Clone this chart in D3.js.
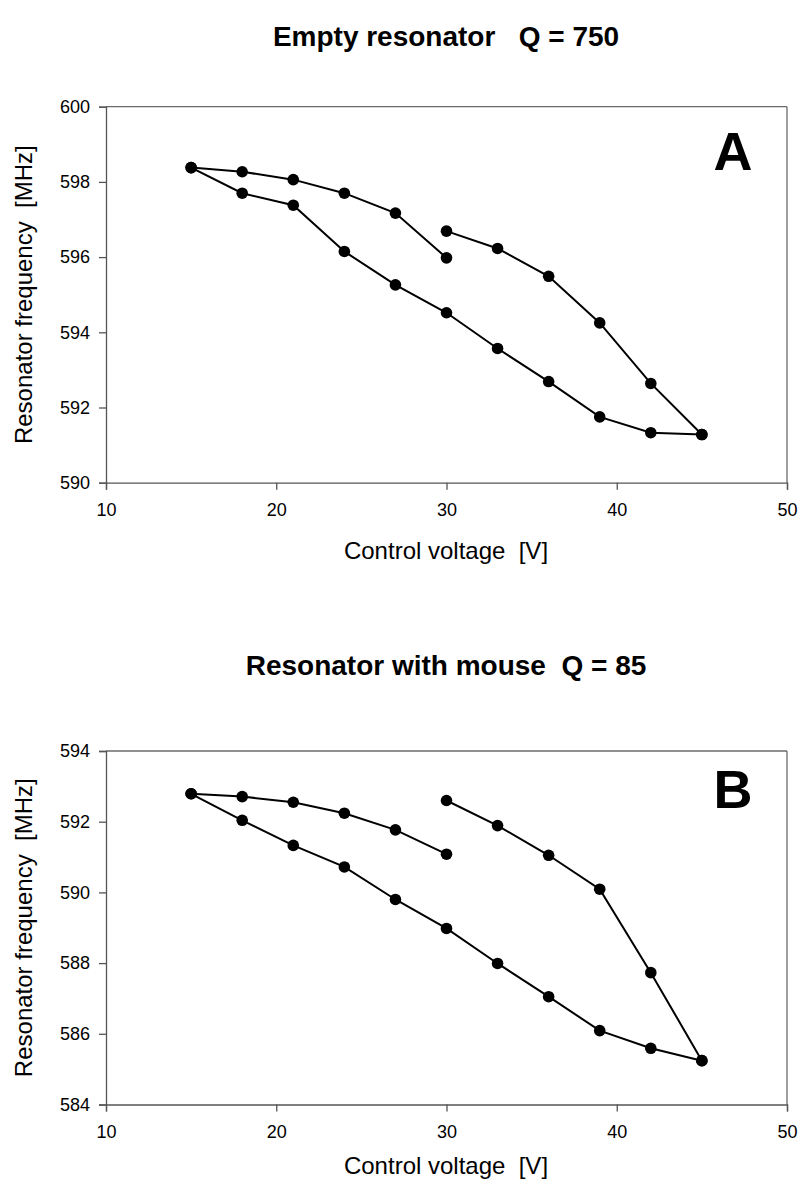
<!DOCTYPE html>
<html>
<head>
<meta charset="utf-8">
<script src="https://cdn.jsdelivr.net/npm/d3@7"></script>
<style>
  html, body { margin: 0; padding: 0; background: #fff; }
  svg { display: block; }
  text { font-family: "Liberation Sans", Arial, sans-serif; fill: #000; white-space: pre; }
</style>
</head>
<body>
<svg id="chart" width="798" height="1192"></svg>
<script>
// ---------- data ----------
const voltage = [15, 18, 21, 24, 27, 30, 33, 36, 39, 42, 45];
const voltLeft = [15, 18, 21, 24, 27, 30];
const voltRight = [30, 33, 36, 39, 42, 45];

// Panel A: empty resonator
const aLower = [598.38, 597.70, 597.38, 596.15, 595.26, 594.52, 593.57, 592.69, 591.75, 591.33, 591.28];
const aUpperLeft = [598.38, 598.27, 598.06, 597.70, 597.17, 595.98];
const aUpperRight = [596.69, 596.23, 595.49, 594.25, 592.64, 591.28];

// Panel B: resonator with mouse
const bLower = [592.79, 592.04, 591.33, 590.72, 589.80, 588.98, 587.99, 587.05, 586.09, 585.59, 585.24];
const bUpperLeft = [592.79, 592.71, 592.55, 592.24, 591.77, 591.08];
const bUpperRight = [592.60, 591.89, 591.05, 590.09, 587.73, 585.24];

const xTicks = [10, 20, 30, 40, 50];
const aYTicks = [590, 592, 594, 596, 598, 600];
const bYTicks = [584, 586, 588, 590, 592, 594];

const titleA = "Empty resonator   Q = 750";
const titleB = "Resonator with mouse  Q = 85";
const xLabel = "Control voltage  [V]";
const yLabel = "Resonator frequency  [MHz]";

// ---------- drawing ----------
const svg = d3.select("#chart");

function panel(cfg) {
  const g = svg.append("g");
  const x = d3.scaleLinear().domain([10, 50]).range([106, 787]);
  const y = d3.scaleLinear().domain(cfg.yDomain).range([cfg.bottom, cfg.top]);

  // frame (top & right)
  g.append("line").attr("x1", 106).attr("x2", 787).attr("y1", cfg.top).attr("y2", cfg.top)
    .attr("stroke", "#6a6a6a").attr("stroke-width", 1.3);
  g.append("line").attr("x1", 787).attr("x2", 787).attr("y1", cfg.top).attr("y2", cfg.bottom)
    .attr("stroke", "#6a6a6a").attr("stroke-width", 1.3);

  // axes
  const xAxis = d3.axisBottom(x).tickValues(xTicks).tickSize(7).tickPadding(9).tickFormat(d3.format("d"));
  const yAxis = d3.axisLeft(y).tickValues(cfg.yTicks).tickSize(7).tickPadding(9).tickFormat(d3.format("d"));
  const gx = g.append("g").attr("transform", `translate(0,${cfg.bottom})`).call(xAxis);
  const gy = g.append("g").attr("transform", `translate(106,0)`).call(yAxis);
  [gx, gy].forEach(a => {
    a.select(".domain").attr("stroke", "#555").attr("stroke-width", 1.3);
    a.selectAll(".tick line").attr("stroke", "#555").attr("stroke-width", 1.3);
    a.selectAll(".tick text").style("font-size", "18px").style("font-family", "'Liberation Sans', Arial, sans-serif").attr("fill", "#000");
  });
  gx.selectAll(".tick text").attr("dy", "0.95em");

  // lines
  const line = d3.line().x(d => x(d[0])).y(d => y(d[1]));
  const series = [
    d3.zip(voltage, cfg.lower),
    d3.zip(voltLeft, cfg.upperLeft),
    d3.zip(voltRight, cfg.upperRight)
  ];
  g.selectAll("path.s").data(series).enter().append("path")
    .attr("class", "s").attr("d", line).attr("fill", "none")
    .attr("stroke", "#000").attr("stroke-width", 2);
  series.forEach(s => {
    g.selectAll(null).data(s).enter().append("circle")
      .attr("cx", d => x(d[0])).attr("cy", d => y(d[1])).attr("r", 5.8).attr("fill", "#000");
  });

  // titles
  g.append("text").attr("x", 446).attr("y", cfg.titleY).attr("text-anchor", "middle")
    .style("font-size", "28px").style("font-weight", "bold").text(cfg.title);
  g.append("text").attr("x", 733).attr("y", cfg.letterY).attr("text-anchor", "middle")
    .style("font-size", "54px").style("font-weight", "bold").text(cfg.letter);
  g.append("text").attr("x", 446).attr("y", cfg.xLabelY).attr("text-anchor", "middle")
    .style("font-size", "24px").text(xLabel);
  g.append("text").attr("transform", `translate(32,${(cfg.top + cfg.bottom) / 2}) rotate(-90)`)
    .attr("text-anchor", "middle").style("font-size", "24px").text(yLabel);
}

panel({
  yDomain: [590, 600], top: 106.7, bottom: 482.7, yTicks: aYTicks,
  lower: aLower, upperLeft: aUpperLeft, upperRight: aUpperRight,
  title: titleA, titleY: 46, letter: "A", letterY: 170, xLabelY: 559
});
panel({
  yDomain: [584, 594], top: 751, bottom: 1104.5, yTicks: bYTicks,
  lower: bLower, upperLeft: bUpperLeft, upperRight: bUpperRight,
  title: titleB, titleY: 675, letter: "B", letterY: 808, xLabelY: 1174
});
</script>
</body>
</html>
